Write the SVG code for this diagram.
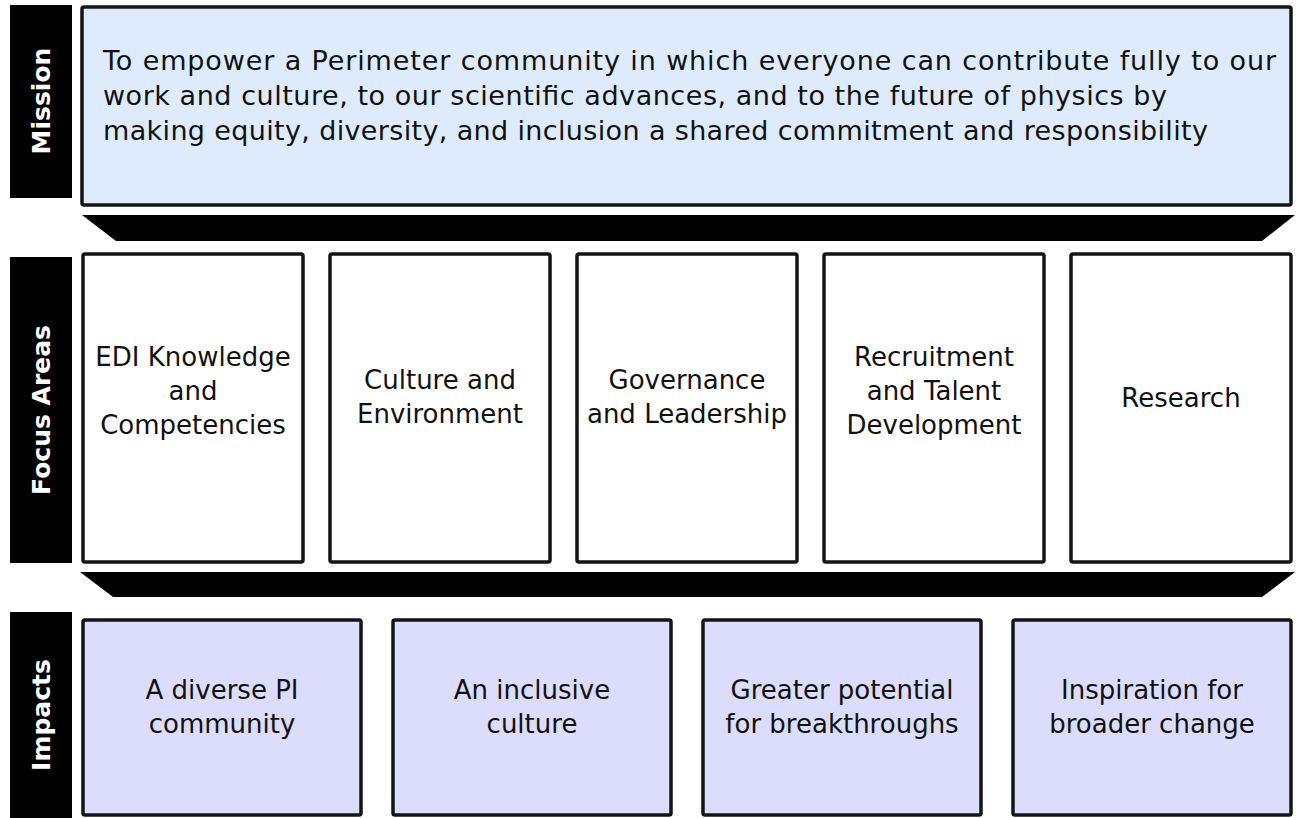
<svg xmlns="http://www.w3.org/2000/svg" width="1296" height="818" viewBox="0 0 1296 818">
<style>
.bg{fill:#ffffff}
.lab{fill:#000000}
.labt{fill:#ffffff;font-family:"DejaVu Sans",sans-serif;font-weight:bold;font-size:25px;text-anchor:middle}
.box{stroke:#141414;stroke-width:3.5}
.mission{fill:#DEEBFC}
.focus{fill:#ffffff}
.impact{fill:#DCDCFC}
.t{fill:#111111;font-family:"DejaVu Sans",sans-serif;font-size:26px;text-anchor:middle}
.mt{fill:#111111;font-family:"DejaVu Sans",sans-serif;font-size:27px}
.band{fill:#000000}
</style>
<rect class="bg" x="0" y="0" width="1296" height="818"/>

<g id="label-mission">
<rect class="lab" x="10" y="5" width="62" height="193"/>
<text class="labt" transform="translate(50,101) rotate(-90)">Mission</text>
</g>
<g id="label-focus">
<rect class="lab" x="10" y="257" width="62" height="306"/>
<text class="labt" transform="translate(50,410) rotate(-90)">Focus Areas</text>
</g>
<g id="label-impacts">
<rect class="lab" x="10" y="612" width="62" height="210"/>
<text class="labt" transform="translate(50,715) rotate(-90)">Impacts</text>
</g>

<g id="mission">
<rect class="box mission" x="82" y="7" width="1209" height="198" rx="2"/>
<text class="mt" x="103" y="70" textLength="1173">To empower a Perimeter community in which everyone can contribute fully to our</text>
<text class="mt" x="103" y="105" textLength="1064">work and culture, to our scientific advances, and to the future of physics by</text>
<text class="mt" x="103" y="140" textLength="1105">making equity, diversity, and inclusion a shared commitment and responsibility</text>
</g>

<g id="connectors">
<polygon class="band" points="82,215 1295,215 1262,241 116,241"/>
<polygon class="band" points="80,572 1295,572 1262,597 113,597"/>
</g>

<g id="focus-edi">
<rect class="box focus" x="83" y="254" width="220" height="308" rx="2"/>
<text class="t" x="193" y="366">EDI Knowledge</text>
<text class="t" x="193" y="400">and</text>
<text class="t" x="193" y="434">Competencies</text>
</g>
<g id="focus-culture">
<rect class="box focus" x="330" y="254" width="220" height="308" rx="2"/>
<text class="t" x="440" y="389">Culture and</text>
<text class="t" x="440" y="423">Environment</text>
</g>
<g id="focus-governance">
<rect class="box focus" x="577" y="254" width="220" height="308" rx="2"/>
<text class="t" x="687" y="389">Governance</text>
<text class="t" x="687" y="423">and Leadership</text>
</g>
<g id="focus-recruitment">
<rect class="box focus" x="824" y="254" width="220" height="308" rx="2"/>
<text class="t" x="934" y="366">Recruitment</text>
<text class="t" x="934" y="400">and Talent</text>
<text class="t" x="934" y="434">Development</text>
</g>
<g id="focus-research">
<rect class="box focus" x="1071" y="254" width="220" height="308" rx="2"/>
<text class="t" x="1181" y="407">Research</text>
</g>

<g id="impact-diverse">
<rect class="box impact" x="83" y="620" width="278" height="195" rx="2"/>
<text class="t" x="222" y="699">A diverse PI</text>
<text class="t" x="222" y="733">community</text>
</g>
<g id="impact-inclusive">
<rect class="box impact" x="393" y="620" width="278" height="195" rx="2"/>
<text class="t" x="532" y="699">An inclusive</text>
<text class="t" x="532" y="733">culture</text>
</g>
<g id="impact-breakthroughs">
<rect class="box impact" x="703" y="620" width="278" height="195" rx="2"/>
<text class="t" x="842" y="699">Greater potential</text>
<text class="t" x="842" y="733">for breakthroughs</text>
</g>
<g id="impact-inspiration">
<rect class="box impact" x="1013" y="620" width="278" height="195" rx="2"/>
<text class="t" x="1152" y="699">Inspiration for</text>
<text class="t" x="1152" y="733">broader change</text>
</g>
</svg>
